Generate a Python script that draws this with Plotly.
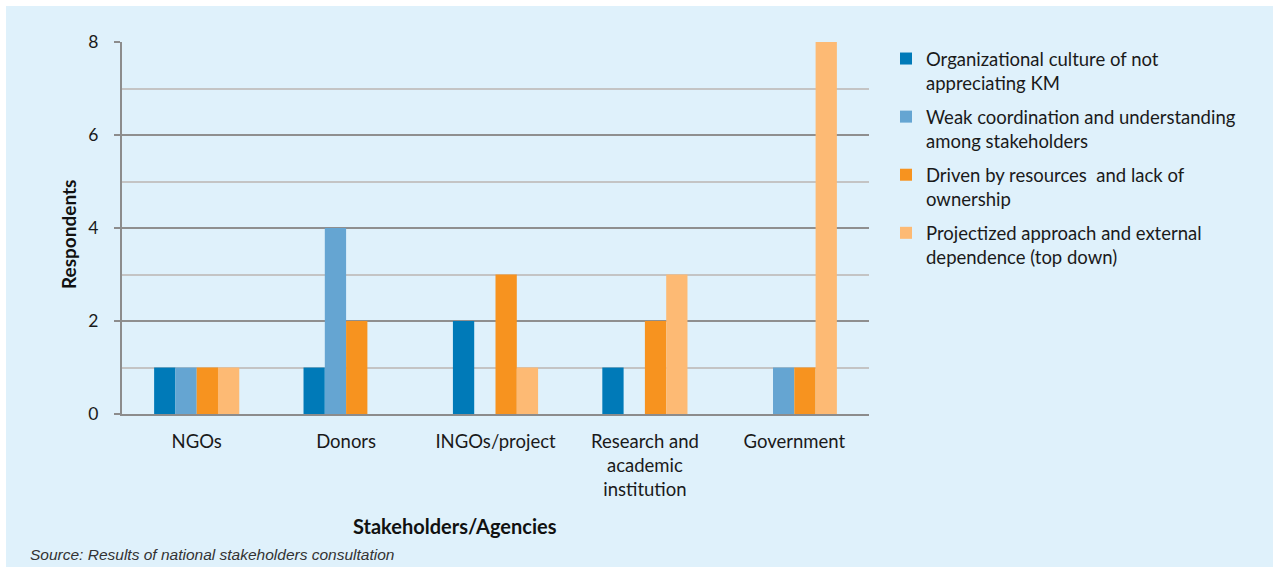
import plotly.graph_objects as go

stakeholders = ["NGOs", "Donors", "INGOs/project", "Research and<br>academic<br>institution", "Government"]

org_culture = [1, 1, 2, 1, 0]
weak_coord = [1, 4, 0, 0, 1]
driven_resources = [1, 2, 3, 2, 1]
projectized = [1, 0, 1, 3, 8]

series_names = [
    "Organizational culture of not<br>appreciating KM",
    "Weak coordination and understanding<br>among stakeholders",
    "Driven by resources  and lack of<br>ownership",
    "Projectized approach and external<br>dependence (top down)",
]
colors = ["#007ab8", "#65a5d2", "#f7931f", "#fdba74"]

W, H = 1273, 572
ML, MR, MT, MB = 122, 404, 42, 158
PW, PH = W - ML - MR, H - MT - MB


def px_x(p):
    # pixel -> paper x
    return (p - ML) / PW


def px_y(p):
    # pixel (from top) -> paper y
    return (H - MB - p) / PH


fig = go.Figure()
for i, (vals, name) in enumerate(zip([org_culture, weak_coord, driven_resources, projectized], series_names)):
    fig.add_bar(
        x=stakeholders, y=vals, name=name,
        marker=dict(color=colors[i], line=dict(width=0)),
        legendgroup=str(i),
    )

text_font = dict(family="Lato", size=18.5, color="#1a1a1a")

fig.update_layout(
    width=W, height=H,
    margin=dict(l=ML, r=MR, t=MT, b=MB),
    paper_bgcolor="white",
    plot_bgcolor="rgba(0,0,0,0)",
    barmode="group",
    bargap=0.43,
    bargroupgap=0,
    font=text_font,
    showlegend=True,
    legend=dict(
        x=px_x(886), y=px_y(40), xanchor="left", yanchor="top",
        bgcolor="rgba(0,0,0,0)", font=dict(family="Lato", size=18.5, color="#1a1a1a"),
        tracegroupgap=7, valign="top", traceorder="grouped", itemwidth=30,
    ),
    shapes=[dict(
        type="rect", xref="paper", yref="paper", layer="below",
        x0=px_x(6), x1=px_x(W + 2), y0=px_y(567), y1=px_y(6),
        fillcolor="#dff1fb", line=dict(width=0),
    )],
    annotations=[
        dict(text="<b>Stakeholders/Agencies</b>", xref="paper", yref="paper",
             x=px_x(455), y=px_y(526), showarrow=False, xanchor="center", yanchor="middle",
             font=dict(family="Lato", size=20, color="#111111")),
        dict(text="<b>Respondents</b>", xref="paper", yref="paper", textangle=-90,
             x=px_x(68), y=px_y(235), showarrow=False, xanchor="center", yanchor="middle",
             font=dict(family="Lato", size=19, color="#111111")),
        dict(text="<i>Source: Results of national stakeholders consultation</i>", xref="paper", yref="paper",
             x=px_x(28), y=px_y(554), showarrow=False, xanchor="left", yanchor="middle",
             font=dict(family="Liberation Sans", size=15.5, color="#333333")),
    ],
)

fig.update_xaxes(
    showline=True, linecolor="#8c8c8c", linewidth=2,
    showgrid=False, ticks="", tickfont=text_font, ticklabelstandoff=10,
)
fig.update_yaxes(
    range=[0, 8], dtick=2, tick0=0,
    showline=True, linecolor="#8c8c8c", linewidth=2,
    showgrid=True, gridcolor="#8f8f8f", gridwidth=1.5,
    zeroline=False,
    ticks="outside", ticklen=6, tickcolor="#8c8c8c", tickwidth=1.5,
    ticklabelstandoff=12,
    tickfont=dict(family="Lato", size=17.5, color="#1a1a1a"),
    minor=dict(dtick=1, showgrid=True, gridcolor="#c4c4c4", gridwidth=1.5),
)

fig.write_html("out.html", config={"displayModeBar": False},
               post_script="document.body.style.margin='0';")
